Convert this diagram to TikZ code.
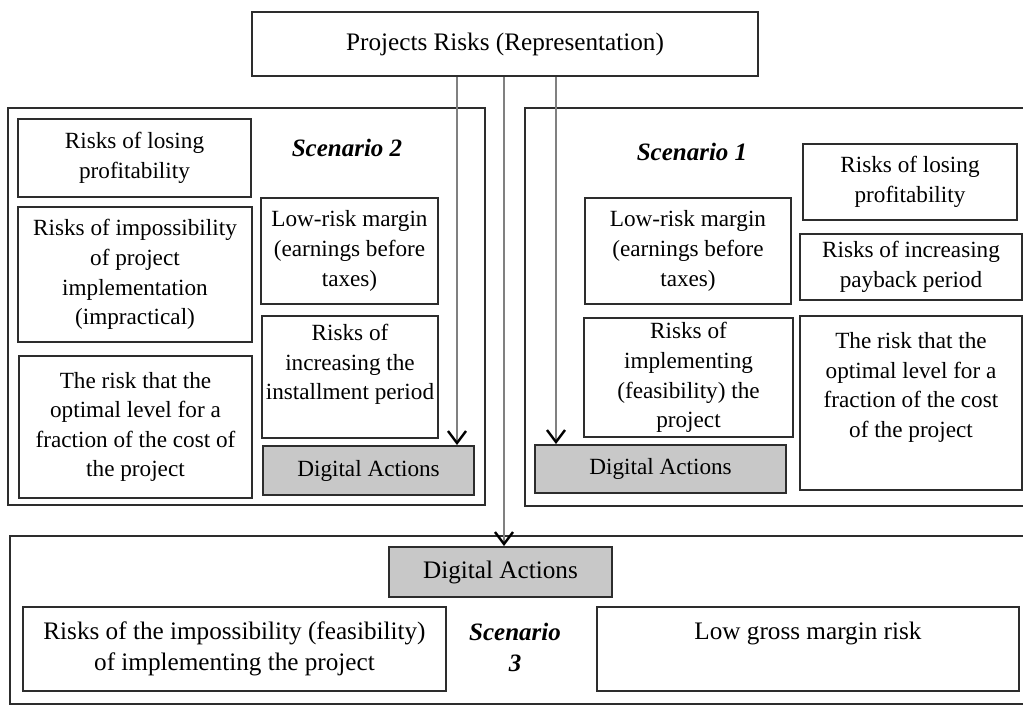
\documentclass[tikz,border=0pt]{standalone}
\usepackage{fontspec}
\setmainfont{Liberation Serif}
\usepackage{xcolor}
\usetikzlibrary{arrows.meta}

\definecolor{actgray}{RGB}{200,200,200}
\definecolor{edgegray}{RGB}{45,45,45}

\tikzset{
  riskbox/.style={draw=edgegray, line width=1pt, align=center, inner sep=1pt,
    font=\fontsize{11.6}{14.8}\selectfont},
  actbox/.style={riskbox, fill=actgray},
  bigtext/.style={font=\fontsize{12.6}{15.5}\selectfont},
  scenbox/.style={draw=edgegray, line width=1.1pt},
  scenlabel/.style={align=center, font=\fontsize{12.5}{15.5}\selectfont\bfseries\itshape},
  flow/.style={draw=gray, line width=0.7pt,
    -{Straight Barb[length=6pt,width=9pt,line width=1.2pt,color=black]}}
}

\begin{document}
\begin{tikzpicture}[x=0.5pt,y=-0.5pt]
  \def \W {1023}
  \def \H {709}
  \useasboundingbox (0,0) rectangle (\W,\H);
  \clip (0,0) rectangle (\W,\H);
  \fill[white] (0,0) rectangle (\W,\H);

  % frames of the three scenarios
  \node[scenbox, minimum width=238.5pt, minimum height=198.5pt] (scen2) at (246.5,306.5) {};
  \node[scenbox, minimum width=251pt, minimum height=199pt] (scen1) at (776,307) {};
  \node[scenbox, minimum width=508.5pt, minimum height=84pt] (scen3) at (518.5,620) {};

  \node[riskbox, bigtext, minimum width=253pt, minimum height=32pt] (top) at (505,44)
  {Projects Risks (Representation)};

  % scenario 2
  \node[scenlabel] (s2lab) at (347,148) {Scenario 2};
  \node[riskbox, minimum width=116.5pt, minimum height=39pt] (s2loss) at (134.5,158)
  {Risks of losing\\profitability};
  \node[riskbox, minimum width=117pt, minimum height=67.5pt] (s2impl) at (135,274.5)
  {Risks of impossibility\\of project\\implementation\\(impractical)};
  \node[riskbox, minimum width=116.5pt, minimum height=71pt] (s2cost) at (135.5,427)
  {The risk that the\\optimal level for a\\fraction of the cost of\\the project};
  \node[riskbox, minimum width=88.5pt, minimum height=53pt] (s2margin) at (349.5,251)
  {Low-risk margin\\(earnings before\\taxes)};
  \node[riskbox, minimum width=88pt, minimum height=61pt, text depth=15pt] (s2period) at (350,377)
  {Risks of\\increasing the\\installment period};
  \node[actbox, minimum width=105.5pt, minimum height=24.5pt] (s2act) at (368.5,470.5)
  {Digital Actions};

  % scenario 1
  \node[scenlabel] (s1lab) at (692,152) {Scenario 1};
  \node[riskbox, minimum width=107pt, minimum height=38pt] (s1loss) at (910,182)
  {Risks of losing\\profitability};
  \node[riskbox, minimum width=111pt, minimum height=33pt] (s1payback) at (911,267)
  {Risks of increasing\\payback period};
  \node[riskbox, minimum width=111pt, minimum height=87pt, text depth=18pt] (s1cost) at (911,403)
  {The risk that the\\optimal level for a\\fraction of the cost\\of the project};
  \node[riskbox, minimum width=103pt, minimum height=53pt] (s1margin) at (688,251)
  {Low-risk margin\\(earnings before\\taxes)};
  \node[riskbox, minimum width=104.5pt, minimum height=59.5pt] (s1impl) at (688.5,377.5)
  {Risks of\\implementing\\(feasibility) the\\project};
  \node[actbox, minimum width=125.5pt, minimum height=24pt] (s1act) at (660.5,469)
  {Digital Actions};

  % scenario 3
  \node[scenlabel] (s3lab) at (515,647) {Scenario\\3};
  \node[actbox, bigtext, minimum width=111.5pt, minimum height=25pt] (s3act) at (500.5,572)
  {Digital Actions};
  \node[riskbox, bigtext, minimum width=211.5pt, minimum height=42pt] (s3impl) at (234.5,649)
  {Risks of the impossibility (feasibility)\\of implementing the project};
  \node[riskbox, bigtext, minimum width=211pt, minimum height=42pt, text depth=18pt] (s3gross) at (808,649)
  {Low gross margin risk};

  % connectors
  \coordinate (s2in) at (457,0);
  \coordinate (s3in) at (504,0);
  \coordinate (s1in) at (556,0);
  \draw[flow] (top.south -| s2in) -- (s2act.north -| s2in);
  \draw[flow] (top.south -| s3in) -- (s3act.north -| s3in);
  \draw[flow] (top.south -| s1in) -- (s1act.north -| s1in);
\end{tikzpicture}
\end{document}
